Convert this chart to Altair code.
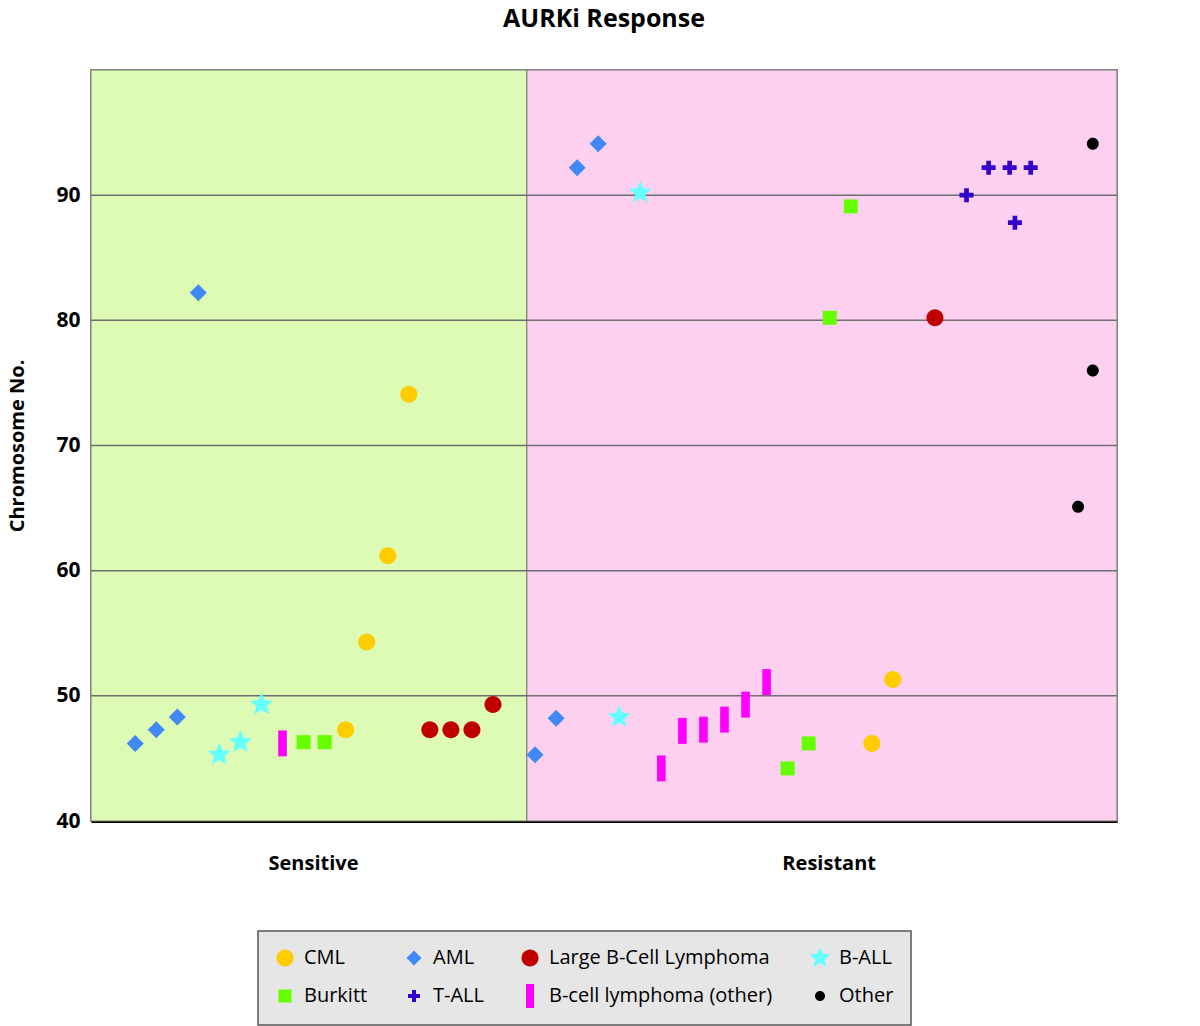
import altair as alt
import pandas as pd

# ---- data ----
categories = ["CML", "AML", "Large B-Cell Lymphoma", "B-ALL",
              "Burkitt", "T-ALL", "B-cell lymphoma (other)", "Other"]
cat_colors = ["#FFCC00", "#3F88F5", "#C00000", "#66FFFF",
              "#66FF00", "#3300CC", "#FF00FF", "#000000"]

# glyph outlines (unit = 1/10 of legend symbol size 400)
CIRCLE = "M0.85,0A0.85,0.85,0,1,1,-0.85,0A0.85,0.85,0,1,1,0.85,0Z"
DOT = "M0.5,0A0.5,0.5,0,1,1,-0.5,0A0.5,0.5,0,1,1,0.5,0Z"
DIAMOND = "M-0.75,0L0,-0.75L0.75,0L0,0.75Z"
STAR = ("M0,-1.1L0.29,-0.4L1.046,-0.34L0.471,0.153L0.647,0.89L0,0.495"
        "L-0.647,0.89L-0.471,0.153L-1.046,-0.34L-0.29,-0.4Z")
SQUARE = "M-0.65,-0.65L0.65,-0.65L0.65,0.65L-0.65,0.65Z"
CROSS = ("M-0.6,-0.2L-0.2,-0.2L-0.2,-0.6L0.2,-0.6L0.2,-0.2L0.6,-0.2L0.6,0.2"
         "L0.2,0.2L0.2,0.6L-0.2,0.6L-0.2,0.2L-0.6,0.2Z")
BAR = "M-0.4,-1.2L0.4,-1.2L0.4,1.2L-0.4,1.2Z"
cat_shapes = [CIRCLE, DIAMOND, CIRCLE, STAR, SQUARE, CROSS, BAR, DOT]
cat_point_sizes = [400, 514, 400, 480, 464, 545, 467, 576]

point_cat = (["AML"] * 4 + ["B-ALL"] * 3 + ["B-cell lymphoma (other)"] + ["Burkitt"] * 2 +
             ["CML"] * 4 + ["Large B-Cell Lymphoma"] * 4 +
             ["AML"] * 4 + ["B-ALL"] * 2 + ["B-cell lymphoma (other)"] * 6 + ["Burkitt"] * 4 +
             ["CML"] * 2 + ["Large B-Cell Lymphoma"] + ["T-ALL"] * 5 + ["Other"] * 3)
point_slot = [2, 3, 4, 5, 6, 7, 8, 9, 10, 11, 12, 13, 14, 15, 16, 17, 18, 19,
              21, 22, 23, 24, 25, 26, 27, 28, 29, 30, 31, 32, 33, 34, 35, 36,
              37, 38, 40, 41.5, 42.55, 43.55, 43.8, 44.55, 46.8, 47.5, 47.5]
point_chrom = [46.2, 47.3, 48.3, 82.2, 45.3, 46.3, 49.3, 46.2, 46.3, 46.3,
               47.3, 54.3, 61.2, 74.1, 47.3, 47.3, 47.3, 49.3,
               45.3, 48.2, 92.2, 94.1, 48.3, 90.2, 44.2, 47.2, 47.3, 48.1, 49.3, 51.1,
               44.2, 46.2, 80.2, 89.1, 46.2, 51.3, 80.2,
               90.0, 92.2, 92.2, 87.8, 92.2, 65.1, 76.0, 94.1]

region_names = ["Sensitive", "Resistant"]
region_start = [-0.1, 20.61]
region_end = [20.61, 48.65]
region_fill = ["#DDFBB5", "#FDD0F0"]
region_label_pos = [10.45, 34.95]

grid_values = [50, 60, 70, 80, 90]
y_ticks = [40, 50, 60, 70, 80, 90]
y_domain = [40, 100]
x_domain = [-0.1, 48.65]

size_of = dict(zip(categories, cat_point_sizes))
points = pd.DataFrame({"cat": point_cat, "slot": point_slot, "chrom": point_chrom})
points["psize"] = points["cat"].map(size_of)
regions = pd.DataFrame({"region": region_names, "x0": region_start, "x1": region_end,
                        "fill": region_fill})
grid = pd.DataFrame({"g": grid_values})

W, H = 1026, 751
FONT = "Open Sans"

xscale = alt.Scale(domain=x_domain, nice=False, zero=False)
yscale = alt.Scale(domain=y_domain, nice=False, zero=False)

bg = alt.Chart(regions).mark_rect(stroke="#777777", strokeWidth=1).encode(
    x=alt.X("x0:Q", scale=xscale,
            axis=alt.Axis(values=region_label_pos, ticks=False, grid=False,
                          labelExpr="datum.value < 20 ? 'Sensitive' : 'Resistant'",
                          labelFont=FONT, labelFontSize=20, labelFontWeight="bold",
                          labelColor="#000000", labelPadding=32,
                          domainColor="#000000", domainWidth=3, title=None)),
    x2="x1:Q",
    y=alt.value(0),
    y2=alt.value(H),
    fill=alt.Fill("fill:N", scale=None),
)

rules = alt.Chart(grid).mark_rule(color="#6E6E6E", strokeWidth=1.5).encode(
    y=alt.Y("g:Q", scale=yscale)
)

leg = alt.Legend(title=None, orient="none", legendX=167, legendY=861,
                 direction="horizontal", columns=4)

pts = alt.Chart(points).mark_point(filled=True, opacity=1).encode(
    x=alt.X("slot:Q", scale=xscale),
    y=alt.Y("chrom:Q", scale=yscale,
            axis=alt.Axis(values=y_ticks, ticks=False, grid=False, domain=False,
                          labelFont=FONT, labelFontSize=21, labelFontWeight="bold",
                          labelColor="#000000", labelPadding=11,
                          title="Chromosome No.", titleFont=FONT, titleFontSize=20,
                          titleFontWeight="bold", titleColor="#000000", titlePadding=28)),
    color=alt.Color("cat:N", scale=alt.Scale(domain=categories, range=cat_colors), legend=leg),
    shape=alt.Shape("cat:N", scale=alt.Scale(domain=categories, range=cat_shapes), legend=leg),
    size=alt.Size("psize:Q", scale=None),
)

chart = alt.layer(bg, rules, pts).properties(
    width=W, height=H,
    title=alt.TitleParams("AURKi Response", font=FONT, fontSize=25, fontWeight="bold",
                          color="#000000", anchor="middle", offset=38),
    padding={"left": -1, "top": -2, "right": 10, "bottom": 0},
).configure_view(
    stroke="#707070", strokeWidth=1.5
).configure_legend(
    fillColor="#E6E6E6", strokeColor="#555555", strokeWidth=1.5, padding=17,
    labelFont=FONT, labelFontSize=20, labelColor="#000000", labelOffset=9,
    columnPadding=36, rowPadding=16, labelLimit=400, symbolSize=400,
    symbolStrokeWidth=0,
)

chart.save("out.html", embed_options={"renderer": "svg", "actions": False})
